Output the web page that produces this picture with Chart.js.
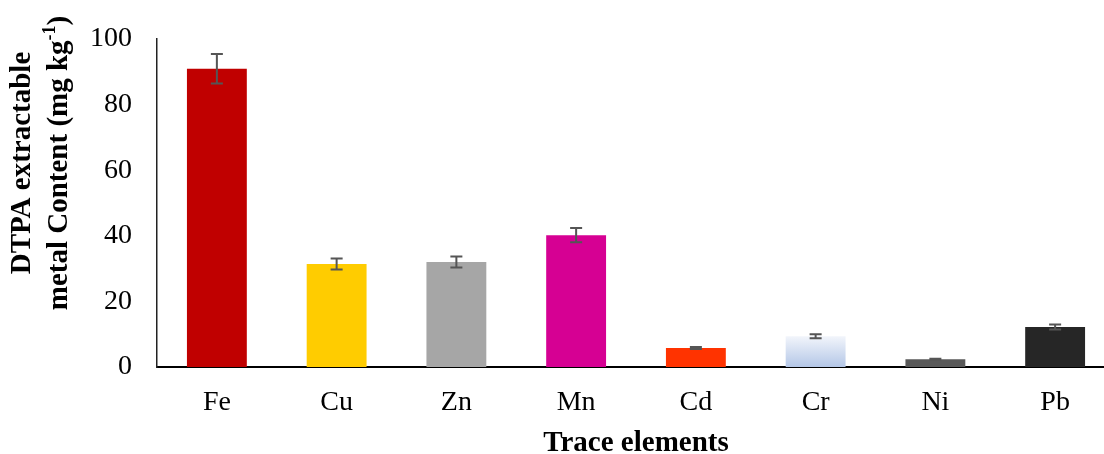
<!DOCTYPE html>
<html>
<head>
<meta charset="utf-8">
<script src="https://cdn.jsdelivr.net/npm/chart.js@4.4.0/dist/chart.umd.min.js"></script>
<style>
  html, body { margin: 0; padding: 0; background: #fff; overflow: hidden; }
  #wrap { position: relative; width: 1115px; height: 454px; }
</style>
</head>
<body>
<div id="wrap"><canvas id="myChart"></canvas></div>
<script>
const elements = ['Fe', 'Cu', 'Zn', 'Mn', 'Cd', 'Cr', 'Ni', 'Pb'];
const metalContent = [90.9, 31.4, 32.0, 40.2, 5.8, 9.4, 2.4, 12.2];
const errorValues = [4.5, 1.7, 1.7, 2.2, 0.3, 0.6, 0.15, 0.75];
const barColors = ['#c00000', '#ffcc00', '#a6a6a6', '#d60093', '#ff3300', '#b4c7e7', '#595959', '#262626'];
const yTitleLines = ['DTPA extractable', 'metal Content (mg kg'];

const serif = "'Liberation Serif', 'Times New Roman', serif";
const myChartElement = document.getElementById('myChart');

// Cr bar is drawn with a light-to-blue vertical fade
function barFill(context) {
  const i = context.dataIndex;
  const chart = context.chart;
  if (elements[i] !== 'Cr' || !chart.chartArea) return barColors[i];
  const yScale = chart.scales.y;
  const top = yScale.getPixelForValue(metalContent[i]);
  const base = yScale.getPixelForValue(0);
  const grad = chart.ctx.createLinearGradient(0, top, 0, base);
  grad.addColorStop(0, '#f2f5fb');
  grad.addColorStop(1, barColors[i]);
  return grad;
}

const errorBarPlugin = {
  id: 'errorBars',
  afterDatasetsDraw(chart) {
    const ctx = chart.ctx;
    const yScale = chart.scales.y;
    const meta = chart.getDatasetMeta(0);
    ctx.save();
    ctx.strokeStyle = '#555';
    ctx.lineWidth = 2;
    meta.data.forEach((bar, i) => {
      const top = yScale.getPixelForValue(metalContent[i] + errorValues[i]);
      const bottom = yScale.getPixelForValue(metalContent[i] - errorValues[i]);
      ctx.beginPath();
      ctx.moveTo(bar.x, top);
      ctx.lineTo(bar.x, bottom);
      ctx.moveTo(bar.x - 6, top);
      ctx.lineTo(bar.x + 6, top);
      ctx.moveTo(bar.x - 6, bottom);
      ctx.lineTo(bar.x + 6, bottom);
      ctx.stroke();
    });
    ctx.restore();
  }
};

const yTitlePlugin = {
  id: 'yTitle',
  afterDraw(chart) {
    const ctx = chart.ctx;
    const font = 'bold 29px ' + serif;
    const supFont = 'bold 18px ' + serif;
    const centerY = 163;
    ctx.save();
    ctx.fillStyle = '#000';
    ctx.textBaseline = 'middle';
    ctx.textAlign = 'left';

    // first line
    ctx.save();
    ctx.translate(23, centerY);
    ctx.rotate(-Math.PI / 2);
    ctx.font = font;
    let w = ctx.measureText(yTitleLines[0]).width;
    ctx.fillText(yTitleLines[0], -w / 2, 0);
    ctx.restore();

    // second line with superscript -1
    ctx.save();
    ctx.translate(60, centerY);
    ctx.rotate(-Math.PI / 2);
    ctx.font = font;
    const w1 = ctx.measureText(yTitleLines[1]).width;
    const w3 = ctx.measureText(')').width;
    ctx.font = supFont;
    const w2 = ctx.measureText('-1').width;
    const total = w1 + w2 + w3;
    let x = -total / 2;
    ctx.font = font;
    ctx.fillText(yTitleLines[1], x, 0);
    x += w1;
    ctx.font = supFont;
    ctx.fillText('-1', x, -10);
    x += w2;
    ctx.font = font;
    ctx.fillText(')', x, 0);
    ctx.restore();

    ctx.restore();
  }
};

let myChart = new Chart(myChartElement, {
  type: 'bar',
  data: {
    labels: elements,
    datasets: [{
      data: metalContent,
      backgroundColor: barFill,
      borderWidth: 0,
      barPercentage: 0.5,
      categoryPercentage: 1.0
    }]
  },
  options: {
    responsive: true,
    maintainAspectRatio: false,
    animation: false,
    layout: { padding: { top: 39, right: 0, bottom: 0, left: 0 } },
    plugins: {
      legend: { display: false },
      tooltip: { enabled: false }
    },
    scales: {
      x: {
        grid: { display: false, drawTicks: false },
        border: { display: true, color: '#000', width: 2 },
        ticks: {
          color: '#000',
          font: { family: serif, size: 28 },
          padding: 19,
          maxRotation: 0
        },
        title: {
          display: true,
          text: 'Trace elements',
          color: '#000',
          font: { family: serif, size: 29, weight: 'bold' },
          padding: { top: 0, bottom: -7 }
        },
        afterFit(scale) { scale.height = 87; }
      },
      y: {
        min: 0,
        max: 100,
        grid: { display: false, drawTicks: false },
        border: { display: true, color: '#222', width: 1.5 },
        ticks: {
          stepSize: 20,
          color: '#000',
          font: { family: serif, size: 28 },
          padding: 25
        },
        afterFit(scale) {
          scale.width = 157;
          scale.paddingTop = 0;
          scale.paddingBottom = 0;
        }
      }
    }
  },
  plugins: [errorBarPlugin, yTitlePlugin]
});
</script>
</body>
</html>
